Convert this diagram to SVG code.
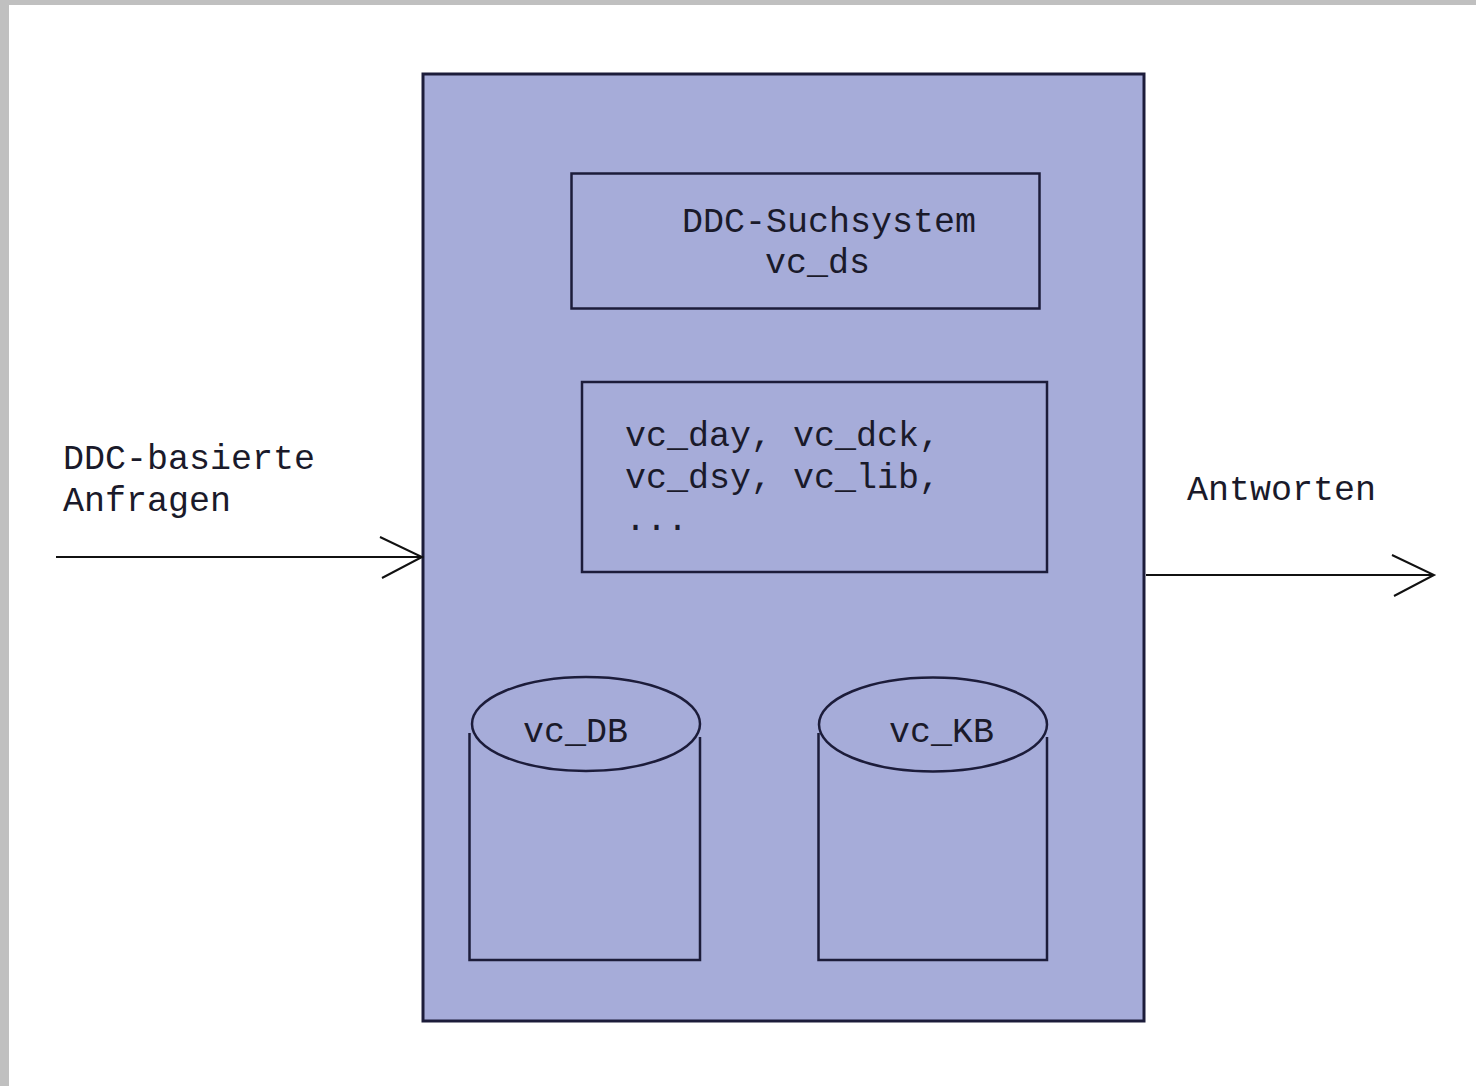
<svg xmlns="http://www.w3.org/2000/svg" width="1476" height="1086" viewBox="0 0 1476 1086">
  <defs>
    <style>
      .txt { font-family: "Liberation Mono", "Courier New", "DejaVu Sans Mono", monospace; font-size: 35px; fill: #1a1a2a; }
      .box { fill: #a6acd9; stroke: #1c1c3a; stroke-width: 3; }
      .inner { fill: none; stroke: #1c1c3a; stroke-width: 2.5; }
      .cyl { fill: none; stroke: #1c1c3a; stroke-width: 2.5; }
      .conn { fill: none; stroke: #111111; stroke-width: 2; }
    </style>
    <marker id="chev" markerUnits="userSpaceOnUse" markerWidth="48" markerHeight="46" viewBox="0 0 48 46" refX="45" refY="23" orient="auto">
      <path d="M3,3 L45,23 L5,44" fill="none" stroke="#111111" stroke-width="2"/>
    </marker>
  </defs>

  <rect x="0" y="0" width="1476" height="1086" fill="#ffffff"/>
  <rect x="0" y="0" width="9" height="1086" fill="#c0c0c0"/>
  <rect x="0" y="0" width="1476" height="5" fill="#c0c0c0"/>

  <g id="system">
    <rect class="box" x="423" y="74" width="721" height="947"/>
  </g>

  <g id="suchsystem">
    <rect class="inner" x="571.5" y="173.5" width="468" height="135"/>
    <text class="txt" x="682" y="232">DDC-Suchsystem</text>
    <text class="txt" x="765" y="273">vc_ds</text>
  </g>

  <g id="modules">
    <rect class="inner" x="582" y="382" width="465" height="190"/>
    <text class="txt" x="625" y="446">vc_day, vc_dck,</text>
    <text class="txt" x="625" y="488">vc_dsy, vc_lib,</text>
    <text class="txt" x="625" y="530">...</text>
  </g>

  <g id="vc_DB">
    <path class="cyl" d="M469.5,733 V960 H700 V737"/>
    <ellipse class="cyl" cx="586" cy="724" rx="114" ry="47"/>
    <text class="txt" x="523" y="742">vc_DB</text>
  </g>

  <g id="vc_KB">
    <path class="cyl" d="M818.5,733 V960 H1047 V737"/>
    <ellipse class="cyl" cx="933" cy="724.5" rx="114" ry="47"/>
    <text class="txt" x="889" y="742">vc_KB</text>
  </g>

  <g id="input-label">
    <text class="txt" x="63" y="469">DDC-basierte</text>
    <text class="txt" x="63" y="511">Anfragen</text>
  </g>

  <g id="output-label">
    <text class="txt" x="1187" y="500">Antworten</text>
  </g>

  <g id="connectors">
    <line class="conn" x1="56" y1="557" x2="422" y2="557" marker-end="url(#chev)"/>
    <line class="conn" x1="1146" y1="575" x2="1434" y2="575" marker-end="url(#chev)"/>
  </g>
</svg>
